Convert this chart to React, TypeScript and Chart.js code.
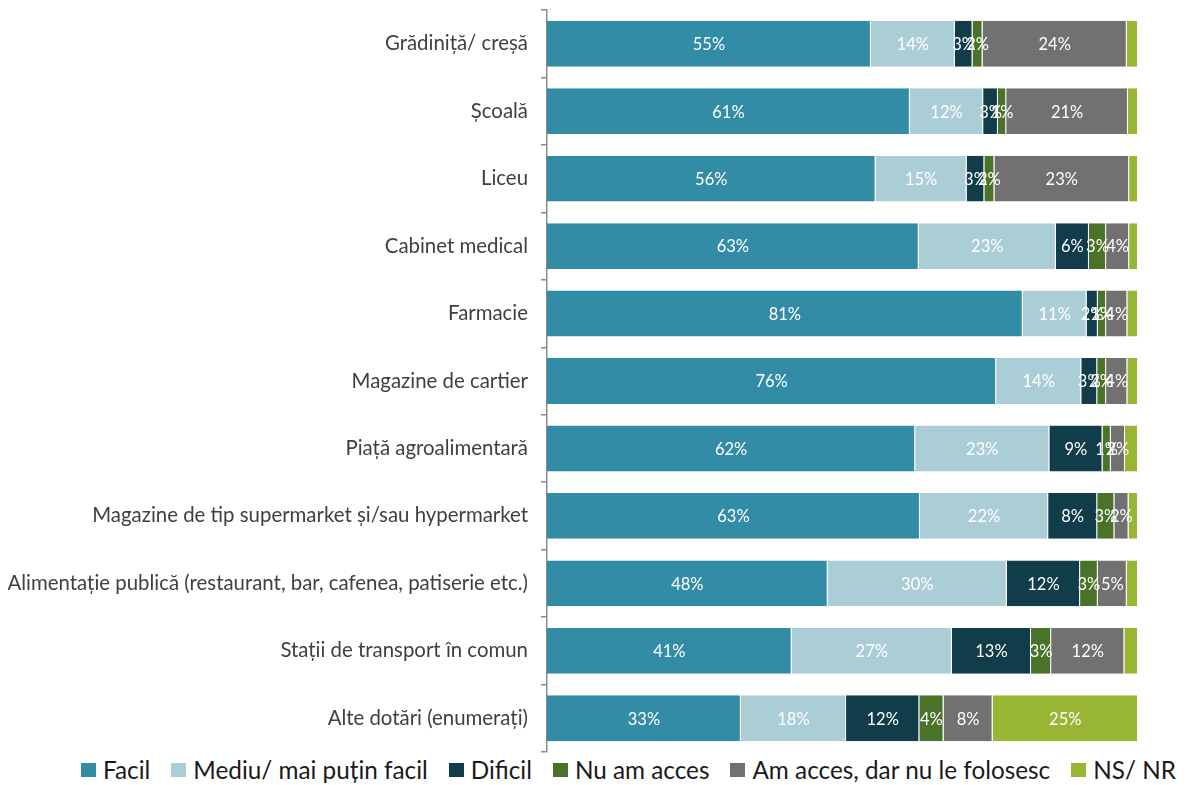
import React, { useEffect, useRef } from "react";
import { Chart, registerables } from "chart.js";

Chart.register(...registerables);

const categories = [
  "Grădiniță/ creșă",
  "Școală",
  "Liceu",
  "Cabinet medical",
  "Farmacie",
  "Magazine de cartier",
  "Piață agroalimentară",
  "Magazine de tip supermarket și/sau hypermarket",
  "Alimentație publică (restaurant, bar, cafenea, patiserie etc.)",
  "Stații de transport în comun",
  "Alte dotări (enumerați)",
];

const seriesNames = [
  "Facil",
  "Mediu/ mai puțin facil",
  "Dificil",
  "Nu am acces",
  "Am acces, dar nu le folosesc",
  "NS/ NR",
];

const facil = [54.8, 61.4, 55.6, 62.9, 80.5, 76.0, 62.3, 63.1, 47.5, 41.4, 32.8];
const mediu = [14.2, 12.4, 15.4, 23.2, 10.8, 14.4, 22.7, 21.7, 30.3, 27.1, 17.8];
const dificil = [3.0, 2.5, 3.0, 5.6, 1.9, 2.7, 9.0, 8.3, 12.4, 13.4, 12.4];
const nuAmAcces = [1.7, 1.4, 1.7, 2.9, 1.4, 1.5, 1.4, 2.9, 3.0, 3.4, 4.1];
const amAccesNuFolosesc = [24.4, 20.6, 22.8, 3.9, 3.6, 3.6, 2.4, 2.4, 4.9, 12.4, 8.3];
const nsNr = [1.9, 1.7, 1.5, 1.5, 1.8, 1.8, 2.2, 1.6, 1.9, 2.3, 24.6];

const colors = ["#338ca6", "#abcdd6", "#113d4a", "#4a7229", "#717171", "#98b534"];
const labelMin = [0.5, 0.5, 0.5, 0.5, 0.5, 5];

const FONT = "Lato, 'Open Sans', sans-serif";

const dataLabelPlugin = {
  id: "segLabels",
  afterDatasetsDraw(chart: any) {
    const ctx = chart.ctx;
    ctx.save();
    ctx.font = `16.5px ${FONT}`;
    ctx.fillStyle = "#ffffff";
    ctx.textAlign = "center";
    ctx.textBaseline = "middle";
    chart.data.datasets.forEach((ds: any, di: number) => {
      const meta = chart.getDatasetMeta(di);
      meta.data.forEach((el: any, i: number) => {
        const v = ds.data[i];
        if (v < labelMin[di]) return;
        const { x, y, base } = el.getProps(["x", "y", "base"], true);
        ctx.fillText(`${Math.round(v)}%`, (x + base) / 2, y + 1);
      });
    });
    ctx.restore();
  },
};

export default function App() {
  const ref = useRef<HTMLCanvasElement | null>(null);
  useEffect(() => {
    if (!ref.current) return;
    const all = [facil, mediu, dificil, nuAmAcces, amAccesNuFolosesc, nsNr];
    const chart = new Chart(ref.current, {
      type: "bar",
      data: {
        labels: categories,
        datasets: all.map((d, i) => ({
          label: seriesNames[i],
          data: d,
          backgroundColor: colors[i],
          borderColor: "rgba(255,255,255,0.85)",
          borderWidth: { left: 0, right: 1, top: 0, bottom: 0 },
          borderSkipped: false,
          barPercentage: 0.68,
          categoryPercentage: 1,
        })),
      },
      options: {
        indexAxis: "y",
        animation: false,
        responsive: false,
        maintainAspectRatio: false,
        layout: { padding: { top: 2, right: 43, left: 0, bottom: 2 } },
        scales: {
          x: {
            stacked: true,
            min: 0,
            max: 100,
            display: false,
          },
          y: {
            stacked: true,
            afterFit: (s: any) => {
              s.width = 539;
              s.paddingTop = 0;
              s.paddingBottom = 0;
            },
            border: { display: true, color: "#8c8c8c", width: 1.5 },
            grid: {
              offset: true,
              drawOnChartArea: false,
              drawTicks: true,
              tickLength: 6,
              color: "#8c8c8c",
              lineWidth: 1.5,
            },
            ticks: {
              padding: 13,
              color: "#404040",
              font: { family: FONT, size: 20.4 },
            },
          },
        },
        plugins: {
          legend: { display: false },
          tooltip: { enabled: false },
        },
      },
      plugins: [dataLabelPlugin],
    });
    return () => chart.destroy();
  }, []);
  return (
    <div style={{ position: "relative", width: 1173, height: 777, overflow: "hidden" }}>
      <canvas ref={ref} width={1173} height={746} style={{ display: "block" }} />
      <div
        style={{
          position: "absolute",
          left: 73,
          top: 747,
          height: 30,
          display: "flex",
          alignItems: "center",
          fontFamily: FONT,
          fontSize: 24.3,
          color: "#1a1a1a",
          whiteSpace: "nowrap",
        }}
      >
        {seriesNames.map((n, i) => (
          <div key={n} style={{ display: "flex", alignItems: "center", marginRight: 21 }}>
            <span
              style={{
                display: "inline-block",
                width: 15,
                height: 14,
                background: colors[i],
                marginRight: 7,
              }}
            />
            <span style={{ lineHeight: "30px" }}>{n}</span>
          </div>
        ))}
      </div>
    </div>
  );
}
